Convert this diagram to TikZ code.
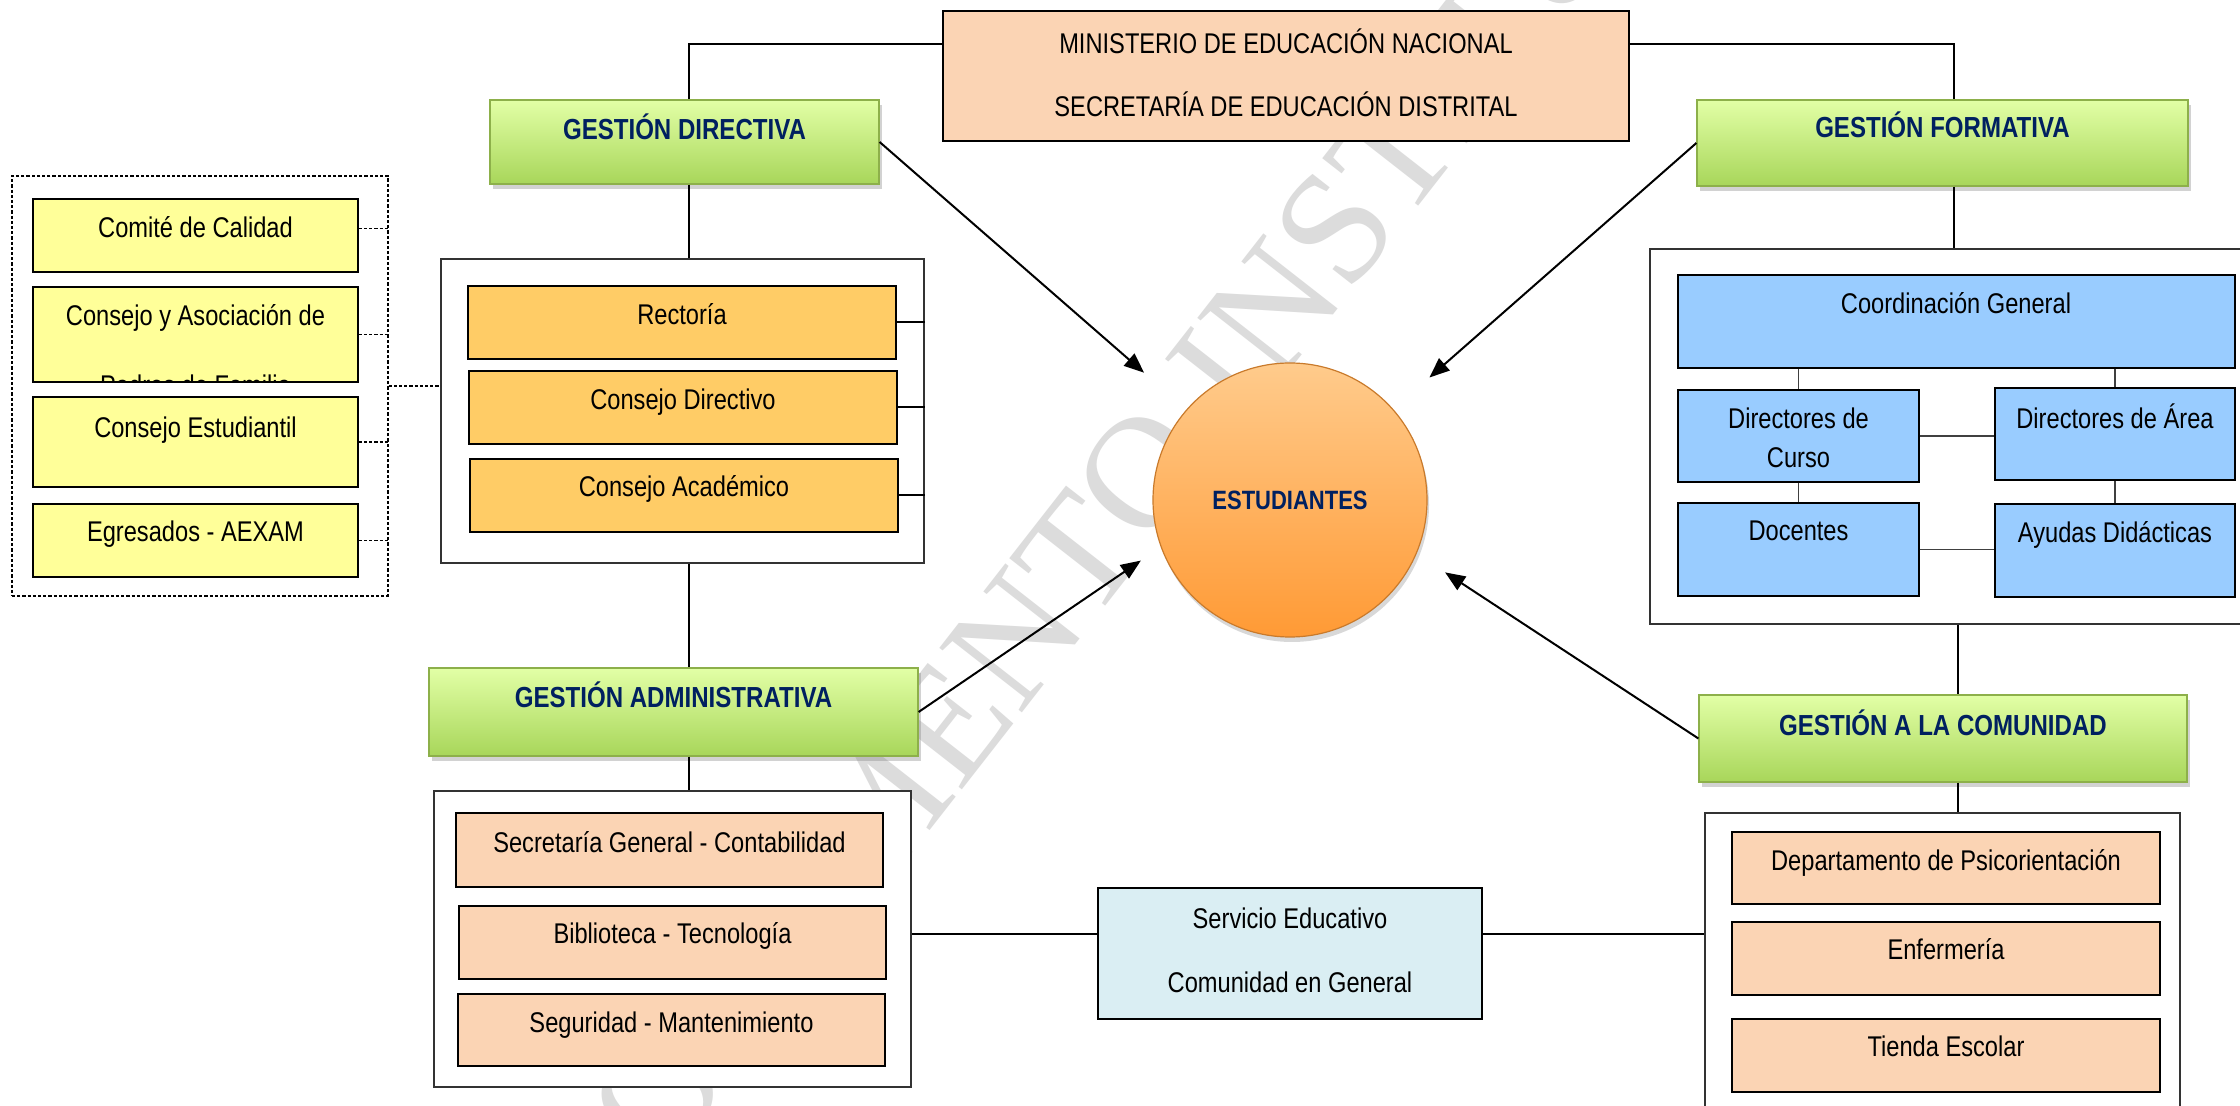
\documentclass[tikz,border=0pt]{standalone}
\usepackage{fontspec}
\setmainfont{Liberation Sans}[FakeStretch=0.83]
\newfontfamily\wmfont{Liberation Serif}
\usetikzlibrary{fit,shadows,arrows.meta,calc}
\definecolor{peach}{HTML}{FBD4B4}
\definecolor{gold}{HTML}{FFCC66}
\definecolor{yel}{HTML}{FFFF99}
\definecolor{sky}{HTML}{99CCFF}
\definecolor{pale}{HTML}{DAEEF3}
\definecolor{navy}{HTML}{002060}
\definecolor{gtop}{HTML}{E2FFA6}
\definecolor{gbot}{HTML}{A8D65A}
\definecolor{gedge}{HTML}{8DB04A}
\definecolor{otop}{HTML}{FFCB8C}
\definecolor{obot}{HTML}{FF9A35}
\definecolor{oedge}{HTML}{C97A2B}
\definecolor{wm}{HTML}{DCDCDC}
\newcommand\mkbox[6]{\node[#1, fit={(#3,#4) (#5,#6)}] (#2) {};}
\newcommand\mktxt[5][txt]{\node[#1] (#2) at (#3,#4) {#5};}
\begin{document}
\begin{tikzpicture}[x=0.5pt,y=-0.5pt,
 box/.style={draw=black, line width=0.9pt, inner sep=0pt},
 cont/.style={draw=black!80, line width=1pt, inner sep=0pt, fill=white},
 gbox/.style={draw=gedge, line width=0.6pt, inner sep=0pt, top color=gtop, bottom color=gbot,
   drop shadow={shadow xshift=1.5pt, shadow yshift=-2.5pt, opacity=0.35}},
 txt/.style={inner sep=0pt, text height=10.2pt, text depth=0pt, font=\fontsize{14.25pt}{17pt}\selectfont},
 ttl/.style={inner sep=0pt, text height=10.4pt, text depth=0pt, text=navy, font=\bfseries\fontsize{14.5pt}{17pt}\selectfont},
 ln/.style={draw=black, line width=1pt},
 fline/.style={draw=black!75, line width=0.65pt},
 dln/.style={draw=black, line width=0.6pt, dash pattern=on 1.6pt off 1pt},
 arr/.style={draw=black, line width=1pt, -{Triangle[length=10pt,width=8pt]}}
]
\useasboundingbox (0,0) rectangle (2240,1106);
\clip (0,0) rectangle (2240,1106);
\fill[white] (0,0) rectangle (2240,1106);

% watermark
\node[rotate=52, text=wm, font=\wmfont\fontsize{80pt}{85pt}\selectfont, inner sep=0pt] (wmk) at (1255,330) {DOCUMENTO INSTITUCIONAL};

% top boxes
\mkbox{box,fill=peach}{min}{943}{11}{1629}{141}
\mkbox{gbox}{gd}{490}{100}{879}{184}
\mkbox{gbox}{gf}{1697}{100}{2188}{186}
\mkbox{gbox}{ga}{429}{668}{918}{756}
\mkbox{gbox}{gc}{1699}{695}{2187}{782}

% containers
\mkbox{cont}{dir}{441}{259}{924}{563}
\mkbox{cont}{frm}{1650}{249}{2260}{624}
\mkbox{cont}{adm}{434}{791}{911}{1087}
\mkbox{cont}{com}{1705}{813}{2180}{1130}
\mkbox{dln,inner sep=0pt}{dsh}{12}{176}{388}{596}
\mkbox{box,fill=pale}{srv}{1098}{888}{1482}{1019}

% spine connectors
\draw[ln] ($(min.north west)!0.254!(min.south west)$) -| ([xshift=2pt]gd.north);
\draw[ln] ([xshift=2pt]gd.south) -- ([xshift=2pt]gd.south |- dir.north);
\draw[ln] ([xshift=2pt]gd.south |- dir.south) -- ([xshift=2pt]gd.south |- ga.north);
\draw[ln] ([xshift=2pt]gd.south |- ga.south) -- ([xshift=2pt]gd.south |- adm.north);
\draw[ln] ($(min.north east)!0.254!(min.south east)$) -| ([xshift=5.75pt]gf.north);
\draw[ln] ([xshift=5.75pt]gf.south) -- ([xshift=5.75pt]gf.south |- frm.north);
\draw[ln] ([xshift=7.5pt]gc.north |- frm.south) -- ([xshift=7.5pt]gc.north);
\draw[ln] ([xshift=7.5pt]gc.south) -- ([xshift=7.5pt]gc.south |- com.north);
\coordinate (hy) at (0,934);
\draw[ln] (adm.east |- hy) -- (srv.west |- hy);
\draw[ln] (srv.east |- hy) -- (com.west |- hy);

% left dashed group
\mkbox{box,fill=yel,line width=0.7pt}{c1}{33}{199}{358}{272}
\mkbox{box,fill=yel,line width=0.7pt}{c2}{33}{287}{358}{382}
\mkbox{box,fill=yel,line width=0.7pt}{c3}{33}{397}{358}{487}
\mkbox{box,fill=yel,line width=0.7pt}{c4}{33}{504}{358}{577}
\draw[dln] ([yshift=3.5pt]c1.east) -- ([yshift=3.5pt]c1.east -| dsh.east);
\draw[dln] (c2.east) -- (c2.east -| dsh.east);
\draw[dln] (c3.east) -- (c3.east -| dsh.east);
\draw[dln] (c4.east) -- (c4.east -| dsh.east);
\draw[dln] (dsh.east) -- (dsh.east -| dir.west);
\mktxt{c1t}{195.5}{227}{Comité de Calidad}
\begin{scope}
\clip (c2.south west) rectangle (c2.north east);
\mktxt{c2t}{195.5}{315}{Consejo y Asociación de}
\mktxt{c2u}{195.5}{385}{Padres de Familia}
\end{scope}
\draw[draw=black, line width=0.7pt] (c2.south west) rectangle (c2.north east);
\mktxt{c3t}{195.5}{427}{Consejo Estudiantil}
\mktxt{c4t}{195.5}{531}{Egresados - AEXAM}

% directive
\mkbox{box,fill=gold,line width=0.7pt}{rec}{468}{286}{896}{359}
\mkbox{box,fill=gold,line width=0.7pt}{cdv}{469}{371}{897}{444}
\mkbox{box,fill=gold,line width=0.7pt}{cac}{470}{459}{898}{532}
\draw[ln] (rec.east) -- (rec.east -| dir.east);
\draw[ln] (cdv.east) -- (cdv.east -| dir.east);
\draw[ln] (cac.east) -- (cac.east -| dir.east);
\mktxt{rect}{682}{314}{Rectoría}
\mktxt{cdvt}{683}{399}{Consejo Directivo}
\mktxt{cact}{684}{486}{Consejo Académico}

% formative
\mkbox{box,fill=sky,line width=0.7pt}{cg}{1678}{275}{2235}{368}
\mkbox{box,fill=sky,line width=0.7pt}{dc}{1678}{390}{1919}{482}
\mkbox{box,fill=sky,line width=0.7pt}{da}{1995}{388}{2235}{480}
\mkbox{box,fill=sky,line width=0.7pt}{doc}{1678}{503}{1919}{596}
\mkbox{box,fill=sky,line width=0.7pt}{ayu}{1995}{504}{2235}{597}
\draw[fline] (dc.north |- cg.south) -- (dc.north);
\draw[fline] (da.north |- cg.south) -- (da.north);
\draw[fline] (dc.south) -- (doc.north);
\draw[fline] (da.south) -- (ayu.north);
\draw[fline] (dc.east) -- (dc.east -| da.west);
\draw[fline] (doc.east) -- (doc.east -| ayu.west);
\mktxt{cgt}{1956}{303}{Coordinación General}
\mktxt{dct1}{1798.5}{418}{Directores de}
\mktxt{dct2}{1798.5}{457}{Curso}
\mktxt{dat}{2115}{418}{Directores de Área}
\mktxt{doct}{1798.5}{530}{Docentes}
\mktxt{ayut}{2115}{532}{Ayudas Didácticas}

% administrative
\mkbox{box,fill=peach,line width=0.7pt}{sec}{456}{813}{883}{887}
\mkbox{box,fill=peach,line width=0.7pt}{bib}{459}{906}{886}{979}
\mkbox{box,fill=peach,line width=0.7pt}{seg}{458}{994}{885}{1066}
\mktxt{sect}{669.5}{842}{Secretaría General - Contabilidad}
\mktxt{bibt}{672.5}{933}{Biblioteca - Tecnología}
\mktxt{segt}{671.5}{1022}{Seguridad - Mantenimiento}

% community
\mkbox{box,fill=peach,line width=0.7pt}{dep}{1732}{832}{2160}{904}
\mkbox{box,fill=peach,line width=0.7pt}{enf}{1732}{922}{2160}{995}
\mkbox{box,fill=peach,line width=0.7pt}{tie}{1732}{1019}{2160}{1092}
\mktxt{dept}{1946}{860}{Departamento de Psicorientación}
\mktxt{enft}{1946}{949}{Enfermería}
\mktxt{tiet}{1946}{1046}{Tienda Escolar}

% servicio
\mktxt{srv1}{1290}{918}{Servicio Educativo}
\mktxt{srv2}{1290}{982}{Comunidad en General}

% ministry
\mktxt{min1}{1286}{43}{MINISTERIO DE EDUCACIÓN NACIONAL}
\mktxt{min2}{1286}{106}{SECRETARÍA DE EDUCACIÓN DISTRITAL}

% titles
\mktxt[ttl]{gdt}{684.5}{129}{GESTIÓN DIRECTIVA}
\mktxt[ttl]{gft}{1942.5}{127}{GESTIÓN FORMATIVA}
\mktxt[ttl]{gat}{673.5}{697}{GESTIÓN ADMINISTRATIVA}
\mktxt[ttl]{gct}{1943}{725}{GESTIÓN A LA COMUNIDAD}

% students
\node[circle, minimum size=137pt, inner sep=0pt, draw=oedge, line width=0.6pt,
  top color=otop, bottom color=obot,
  drop shadow={shadow xshift=1pt, shadow yshift=-2.5pt, opacity=0.3},
  text=navy, font=\bfseries\fontsize{13.25pt}{16pt}\selectfont, text height=9.5pt, text depth=0pt]
  (stu) at (1290,500) {ESTUDIANTES};

% arrows
\draw[arr, shorten >=28pt] (gd.east) -- (stu);
\draw[arr, shorten >=24pt] (gf.west) -- (stu);
\draw[arr, shorten >=12pt] (ga.east) -- (stu.200);
\draw[arr, shorten >=17pt] (gc.west) -- (stu.337);
\end{tikzpicture}
\end{document}
